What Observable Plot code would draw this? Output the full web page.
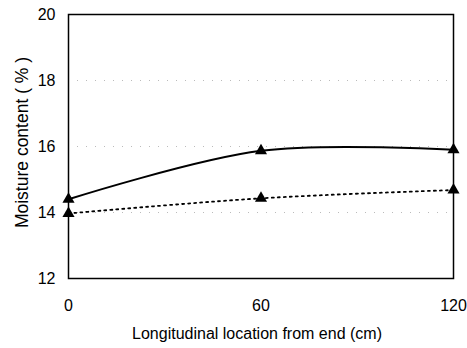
<!DOCTYPE html>
<html><head><meta charset="utf-8">
<script src="https://cdn.jsdelivr.net/npm/d3@7"></script>
<script src="https://cdn.jsdelivr.net/npm/@observablehq/plot@0.6"></script>
<style>body{margin:0;background:#fff;font-family:"Liberation Sans",Arial,sans-serif;}</style>
</head><body><div id="chart"></div>
<script>
const locations = [0, 60, 120];
const solidSeries = [14.4, 15.87, 15.9];
const dottedSeries = [13.97, 14.43, 14.68];
const xTicks = [0, 60, 120];
const yTicks = [12, 14, 16, 18, 20];
const gridValues = [14, 16, 18];
const xLabel = "Longitudinal location from end (cm)";
const yLabel = "Moisture content ( % )";

const solid = locations.map((x, i) => ({x, y: solidSeries[i]}));
const dotted = locations.map((x, i) => ({x, y: dottedSeries[i]}));

const chart = Plot.plot({
  width: 467, height: 348,
  marginLeft: 68, marginRight: 14, marginTop: 14, marginBottom: 70,
  style: {fontFamily: "Liberation Sans, Arial, sans-serif", fontSize: "16px", color: "#000", background: "#fff"},
  x: {domain: [0, 120], ticks: xTicks, tickSize: 0, tickPadding: 21, label: null},
  y: {domain: [12, 20], ticks: yTicks, tickSize: 0, tickPadding: 13, label: null},
  marks: [
    Plot.ruleY(gridValues, {stroke: "#bbb", strokeWidth: 1, strokeDasharray: "1,8"}),
    Plot.frame({stroke: "#000", strokeWidth: 1.5}),
    Plot.line(dotted, {x: "x", y: "y", stroke: "#000", strokeWidth: 1.8, strokeDasharray: "2,4", curve: "catmull-rom"}),
    Plot.line(solid, {x: "x", y: "y", stroke: "#000", strokeWidth: 2, curve: "catmull-rom"}),
    Plot.dot(solid, {x: "x", y: "y", symbol: "triangle", fill: "#000", r: 4.5}),
    Plot.dot(dotted, {x: "x", y: "y", symbol: "triangle", fill: "#000", r: 4.5}),
    Plot.text([xLabel], {text: d => d, frameAnchor: "bottom", textAnchor: "middle", lineAnchor: "middle", dx: -4, dy: 55, fontSize: 16, fill: "#000"}),
    Plot.text([yLabel], {text: d => d, frameAnchor: "left", textAnchor: "middle", lineAnchor: "middle", dx: -46, dy: -4, rotate: -90, fontSize: 17.5, fill: "#000"})
  ]
});
document.getElementById("chart").appendChild(chart);
</script>
</body></html>
